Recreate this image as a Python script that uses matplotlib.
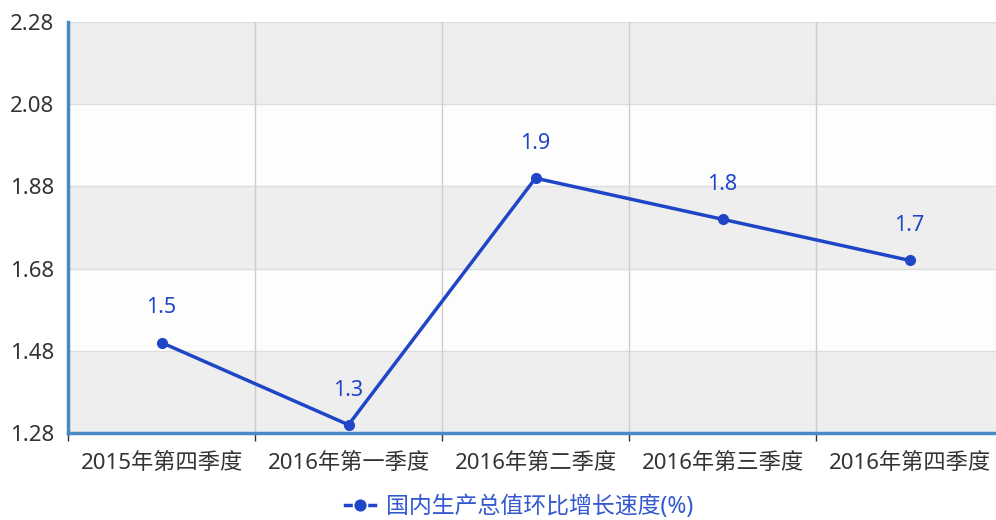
import numpy as np
import matplotlib.pyplot as plt
from matplotlib.lines import Line2D

plt.rcParams['font.family'] = ['Noto Sans', 'Noto Sans CJK SC', 'DejaVu Sans']

# data
quarters = ['2015年第四季度', '2016年第一季度', '2016年第二季度', '2016年第三季度', '2016年第四季度']
growth = [1.5, 1.3, 1.9, 1.8, 1.7]
y_ticks = [1.28, 1.48, 1.68, 1.88, 2.08, 2.28]
series_name = '国内生产总值环比增长速度(%)'

line_color = '#2046c8'
axis_color = '#4a8ac4'

fig = plt.figure(figsize=(9.96, 5.2), dpi=100)
ax = fig.add_axes([68 / 996, 87 / 520, 935 / 996, 411 / 520])

x = np.arange(len(quarters))
ax.set_xlim(-0.5, len(quarters) - 0.5)
ax.set_ylim(y_ticks[0], y_ticks[-1])

# alternating bands
for i in range(len(y_ticks) - 1):
    c = '#eeeeee' if (len(y_ticks) - 2 - i) % 2 == 0 else '#fdfdfd'
    ax.axhspan(y_ticks[i], y_ticks[i + 1], color=c, zorder=0, lw=0)
for yv in y_ticks[1:]:
    ax.axhline(yv, color='#dddddd', lw=1, zorder=1)
for xv in np.arange(0.5, len(quarters) - 0.5, 1):
    ax.axvline(xv, color='#cccccc', lw=1, zorder=1)

ax.plot(x, growth, color=line_color, lw=2.5, marker='o', ms=7, zorder=3, clip_on=False)
for xi, yi in zip(x, growth):
    ax.annotate(f'{yi}', (xi, yi), xytext=(0, 25), textcoords='offset points',
                ha='center', va='center', color=line_color, fontsize=15.5)

ax.set_yticks(y_ticks)
ax.set_yticklabels([f'{v:.2f}' for v in y_ticks], fontsize=16, color='#333333')
ax.tick_params(axis='y', length=0, pad=10)

ax.set_xticks(np.arange(-0.5, len(quarters), 1), minor=False)
ax.set_xticklabels([])
ax.tick_params(axis='x', length=6, width=1, color='#333333', direction='out')
ax.set_xticks(x, minor=True)
ax.set_xticklabels(quarters, minor=True, fontsize=16, color='#333333')
ax.tick_params(axis='x', which='minor', length=0, pad=14)

for s in ['top', 'right']:
    ax.spines[s].set_visible(False)
ax.spines['left'].set_color(axis_color)
ax.spines['left'].set_linewidth(2.5)
ax.spines['bottom'].set_color(axis_color)
ax.spines['bottom'].set_linewidth(2.5)

handle = Line2D([], [], color=line_color, lw=2.5, marker='o', ms=10,
                markeredgecolor='white', markeredgewidth=1.2)
leg = fig.legend([handle], [series_name], loc='center', bbox_to_anchor=(519 / 996, 1 - 507 / 520),
                 frameon=False, fontsize=16.5, handlelength=1.3, handletextpad=0.5,
                 borderpad=0, borderaxespad=0)
for t in leg.get_texts():
    t.set_color('#3358d0')

fig.savefig('out.png', dpi=100)
